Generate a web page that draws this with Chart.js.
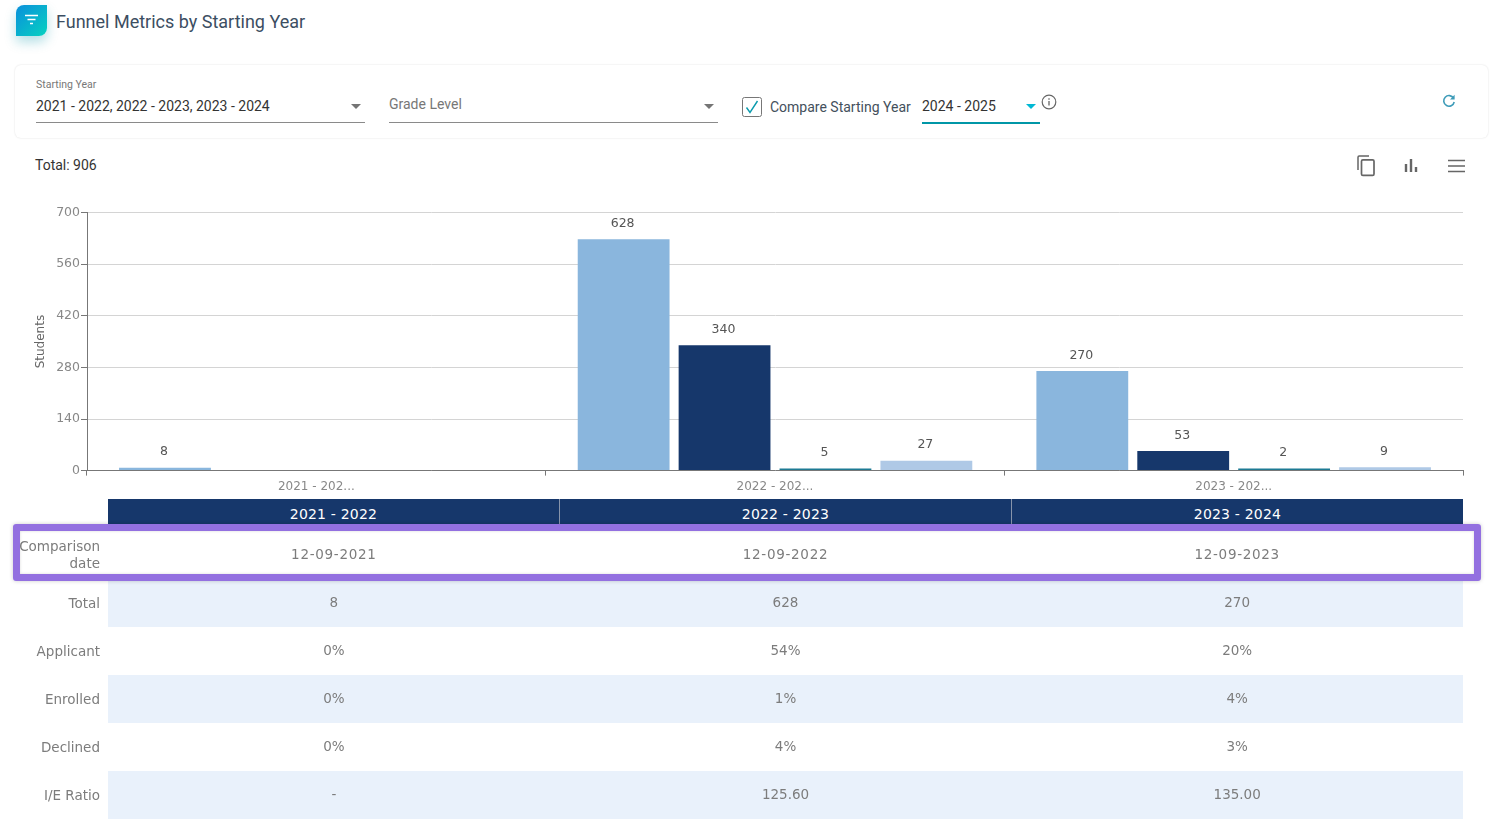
<!DOCTYPE html>
<html>
<head>
<meta charset="utf-8">
<title>Funnel Metrics by Starting Year</title>
<script src="https://cdn.jsdelivr.net/npm/chart.js@4"></script>
<style>
html, body { margin: 0; padding: 0; background: #fff; }
body { width: 1503px; height: 836px; position: relative; overflow: hidden; font-family: Roboto, sans-serif; color: #333; }
.abs { position: absolute; white-space: nowrap; }
.badge { left: 16px; top: 5px; width: 31px; height: 31px; border-radius: 8px 0 8px 0; background: linear-gradient(135deg, #0a8fdc, #06d2c0); box-shadow: 0 6px 12px rgba(6, 150, 170, .3); }
.card { left: 15px; top: 65px; width: 1473px; height: 73px; border-radius: 6px; box-shadow: 0 0 2px rgba(0, 0, 0, .14); }
.line { height: 1px; background: #8a8a8a; }
.arrow { width: 0; height: 0; border-left: 5.5px solid transparent; border-right: 5.5px solid transparent; border-top: 5px solid #757575; }
#chartBox { position: absolute; left: 0; top: 190px; width: 1503px; height: 310px; }
#metrics { position: absolute; left: 108px; top: 499px; width: 1355px; font-family: "DejaVu Sans", sans-serif; font-size: 13.5px; color: #7c7c7c; }
.head { display: flex; height: 32px; background: #16376b; color: #fff; font-size: 14px; letter-spacing: .2px; }
.head div { flex: 1; text-align: center; line-height: 31px; border-left: 1px solid #8794ab; box-sizing: border-box; }
.head div:first-child { border-left: 0; }
.row { display: flex; height: 48px; position: relative; }
.row div { flex: 1; text-align: center; line-height: 47px; }
.row.band { background: #e9f1fb; }
.row.dates div:not(.name) { letter-spacing: .7px; }
.row .name { position: absolute; left: -98px; top: 0; width: 90px; height: 48px; flex: none; text-align: right; display: flex; align-items: center; justify-content: flex-end; line-height: 17px; }
#marker { position: absolute; left: 13px; top: 524px; width: 1454px; height: 43px; border: 7px solid #9370e0; border-radius: 3px; box-shadow: 0 0 4px rgba(0, 0, 0, .2), inset 0 0 3px rgba(0, 0, 0, .15); }
</style>
</head>
<body>
<div class="abs badge"></div>
<svg class="abs" style="left:24px;top:13px" width="15" height="15" viewBox="0 0 15 15"><path d="M1 2.5h13M3.5 6.5h8M6 10.5h3" stroke="#fff" stroke-width="1.6"/></svg>
<div class="abs" style="left:56px;top:11px;font-size:18px;color:#3c4e62">Funnel Metrics by Starting Year</div>

<div class="abs card"></div>
<div class="abs" style="left:36px;top:78px;font-size:10.5px;color:#777">Starting Year</div>
<div class="abs" style="left:36px;top:98px;font-size:14px;color:#333">2021 - 2022, 2022 - 2023, 2023 - 2024</div>
<div class="abs arrow" style="left:351px;top:104px"></div>
<div class="abs line" style="left:36px;top:122px;width:329px"></div>
<div class="abs" style="left:389px;top:96px;font-size:14px;color:#777">Grade Level</div>
<div class="abs arrow" style="left:704px;top:104px"></div>
<div class="abs line" style="left:389px;top:122px;width:329px"></div>
<svg class="abs" style="left:742px;top:97px" width="20" height="20" viewBox="0 0 20 20"><rect x=".5" y=".5" width="19" height="19" rx="2" fill="#fff" stroke="#777"/><path d="M4.5 10.5l3.5 5L15.5 4" fill="none" stroke="#0a9bad" stroke-width="1.4"/></svg>
<div class="abs" style="left:770px;top:99px;font-size:14px;color:#44505c">Compare Starting Year</div>
<div class="abs" style="left:922px;top:98px;font-size:14px;color:#333">2024 - 2025</div>
<div class="abs arrow" style="left:1026px;top:104px;border-top-color:#00b8d4"></div>
<div class="abs" style="left:922px;top:122px;width:118px;height:2px;background:#0097a7"></div>
<svg class="abs" style="left:1041px;top:94px" width="16" height="16" viewBox="0 0 16 16"><circle cx="8" cy="8" r="6.8" fill="none" stroke="#666" stroke-width="1.2"/><path d="M8 7v4.5M8 4.3v1.5" stroke="#666" stroke-width="1.3"/></svg>
<svg class="abs" style="left:1441px;top:93px" width="16" height="16" viewBox="0 0 16 16"><path d="M12.6 5.2A5.3 5.3 0 1 0 13.2 9" fill="none" stroke="#3d9bb8" stroke-width="1.6"/><path d="M13.6 1.8v4.6H9z" fill="#3d9bb8"/></svg>

<div class="abs" style="left:35px;top:157px;font-size:14px;color:#333">Total: 906</div>
<svg class="abs" style="left:1356px;top:155px" width="20" height="22" viewBox="0 0 20 22"><path d="M2 15V2.2Q2 1 3.2 1H13" fill="none" stroke="#666" stroke-width="1.5"/><rect x="5.5" y="4.8" width="12.5" height="15.5" rx="1.4" fill="none" stroke="#666" stroke-width="1.7"/></svg>
<svg class="abs" style="left:1403px;top:157px" width="16" height="16" viewBox="0 0 16 16"><path d="M3 15V7M8 15V2M13 15v-5" stroke="#666" stroke-width="2.4"/></svg>
<svg class="abs" style="left:1447px;top:158px" width="18" height="16" viewBox="0 0 18 16"><path d="M1 2.5h17M1 8h17M1 13.5h17" stroke="#666" stroke-width="1.7"/></svg>

<div id="chartBox"><canvas id="fundingChart"></canvas></div>
<div id="metrics"></div>
<div id="marker"></div>

<script>
// Chart data (no bar is drawn in the reference where a value is missing)
const categories = ['2021 - 2022', '2022 - 2023', '2023 - 2024'];
const seriesNames = ['Total', 'Applicant', 'Enrolled', 'Declined'];
const totalValues = [8, 628, 270];
const applicantValues = [null, 340, 53];
const enrolledValues = [null, 5, 2];
const declinedValues = [null, 27, 9];
const yTicks = [0, 140, 280, 420, 560, 700];

// Table rows under the chart
const rowNames = ['Comparison date', 'Total', 'Applicant', 'Enrolled', 'Declined', 'I/E Ratio'];
const comparisonRow = ['12-09-2021', '12-09-2022', '12-09-2023'];
const totalRow = ['8', '628', '270'];
const applicantRow = ['0%', '54%', '20%'];
const enrolledRow = ['0%', '1%', '4%'];
const declinedRow = ['0%', '4%', '3%'];
const ratioRow = ['-', '125.60', '135.00'];

const seriesColors = ['#8ab6dd', '#16376b', '#1d7a94', '#afc9e6'];
const labelFont = '"DejaVu Sans", sans-serif';

// Draws the value above each bar
const valueLabels = {
    id: 'valueLabels',
    afterDatasetsDraw(chart) {
        const ctx = chart.ctx;
        ctx.save();
        ctx.font = '12.5px ' + labelFont;
        ctx.fillStyle = '#555';
        ctx.textAlign = 'center';
        ctx.textBaseline = 'middle';
        chart.data.datasets.forEach((ds, i) => {
            chart.getDatasetMeta(i).data.forEach((bar, j) => {
                if (ds.data[j] > 0) ctx.fillText(ds.data[j], bar.x - 1, bar.y - 15.5);
            });
        });
        ctx.restore();
    }
};

function initChart() {
    const ctx = document.getElementById('fundingChart').getContext('2d');
    const allValues = [totalValues, applicantValues, enrolledValues, declinedValues];
    new Chart(ctx, {
        type: 'bar',
        data: {
            labels: categories,
            datasets: allValues.map((vals, i) => ({
                label: seriesNames[i],
                data: vals,
                backgroundColor: seriesColors[i],
                categoryPercentage: 0.88,
                barPercentage: 0.91,
                minBarLength: 2
            }))
        },
        options: {
            responsive: true,
            maintainAspectRatio: false,
            animation: false,
            layout: { padding: { left: 34, right: 40, top: 22.6, bottom: 0 } },
            plugins: { legend: { display: false }, tooltip: { enabled: false } },
            scales: {
                x: {
                    afterFit(scale) { scale.height = 29.4; },
                    border: { color: '#777' },
                    grid: { drawOnChartArea: false, color: '#777', tickLength: 5 },
                    ticks: {
                        color: '#888',
                        font: { family: labelFont, size: 12 },
                        padding: 4.5,
                        maxRotation: 0,
                        callback(value) { return this.getLabelForValue(value).slice(0, 10) + '...'; }
                    }
                },
                y: {
                    min: 0,
                    max: 700,
                    afterFit(scale) { scale.width = 53; },
                    afterBuildTicks(scale) { scale.ticks = yTicks.map(v => ({ value: v })); },
                    title: { display: true, text: 'Students', color: '#666', font: { family: labelFont, size: 12 }, padding: { top: 0, bottom: 0 } },
                    border: { color: '#777' },
                    grid: { color: '#d4d4d4', tickColor: '#777', tickLength: 6 },
                    ticks: { color: '#888', font: { family: labelFont, size: 12.5 }, padding: 1 }
                }
            }
        },
        plugins: [valueLabels]
    });
}

// Builds the table under the chart
function initTable() {
    const box = document.getElementById('metrics');
    const rows = [comparisonRow, totalRow, applicantRow, enrolledRow, declinedRow, ratioRow];
    let html = '<div class="head">' + categories.map(c => '<div>' + c + '</div>').join('') + '</div>';
    rows.forEach((cells, i) => {
        const cls = 'row' + (i % 2 ? ' band' : '') + (i === 0 ? ' dates' : '');
        html += '<div class="' + cls + '"><div class="name"><span>' + rowNames[i] + '</span></div>' +
            cells.map(c => '<div>' + c + '</div>').join('') + '</div>';
    });
    box.innerHTML = html;
}

window.onload = function() {
    initChart();
    initTable();
};
</script>
</body>
</html>
